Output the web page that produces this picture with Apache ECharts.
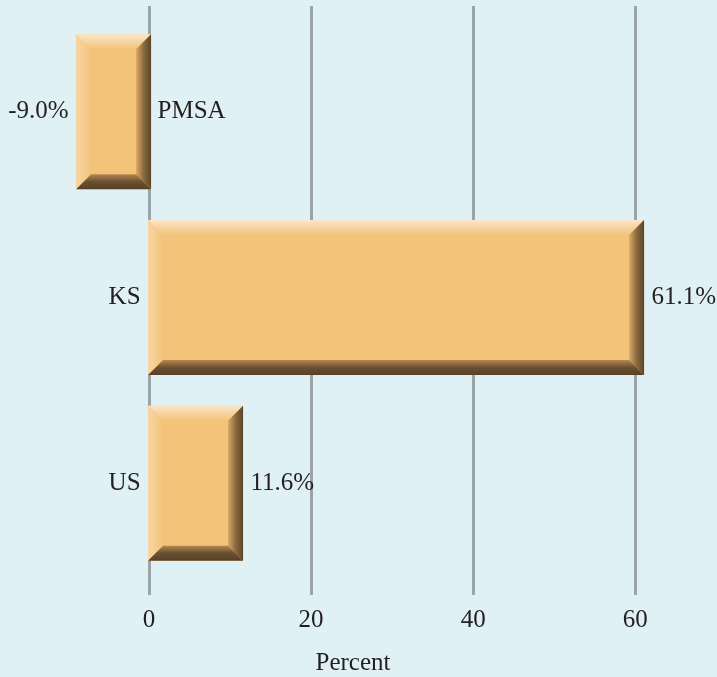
<!DOCTYPE html>
<html><head><meta charset="utf-8">
<script src="https://cdn.jsdelivr.net/npm/echarts@6/dist/echarts.min.js"></script>
<style>html,body{margin:0;padding:0;background:#e0f1f6;}#c{width:717px;height:677px;}</style>
</head><body><div id="c"></div>
<script>
const categories = ['PMSA', 'KS', 'US'];
const values = [-9.0, 61.1, 11.6];
const tickValues = [0, 20, 40, 60];
const axisName = 'Percent';

const FONT = '"Liberation Serif", "DejaVu Serif", serif';
const TXT = '#231f20';
const FS = 25;
const XMIN = -18.4, XMAX = 70.1;
const chart = echarts.init(document.getElementById('c'));

function lin(x1, y1, x2, y2, stops) {
  return new echarts.graphic.LinearGradient(x1, y1, x2, y2, stops.map((c, i) => ({offset: i / (stops.length - 1), color: c})));
}

function renderBar(params, api) {
  const idx = api.value(1);
  const v = api.value(0);
  const p0 = api.coord([0, idx]);
  const p1 = api.coord([v, idx]);
  const band = api.size([0, 1])[1];
  const h = band * 0.835;
  const x0 = Math.min(p0[0], p1[0]) + (v < 0 ? 0 : -1);
  const x1 = Math.max(p0[0], p1[0]) + (v < 0 ? 2 : 0);
  const y0 = p0[1] - h / 2, y1 = p0[1] + h / 2;
  const b = 15;
  const main = '#f3c37a';
  return {
    type: 'group',
    children: [
      {type: 'rect', shape: {x: x0, y: y0, width: x1 - x0, height: y1 - y0}, style: {fill: main}},
      {type: 'polygon', shape: {points: [[x0, y0], [x0 + b, y0 + b], [x0 + b, y1 - b], [x0, y1]]},
        style: {fill: lin(0, 0, 1, 0, ['#f7d7a4', '#f3c37a'])}},
      {type: 'polygon', shape: {points: [[x0, y0], [x1, y0], [x1 - b, y0 + b], [x0 + b, y0 + b]]},
        style: {fill: lin(0, 0, 0, 1, ['#fbe7cb', '#f7d4a0', '#f3c37a'])}},
      {type: 'polygon', shape: {points: [[x1, y0], [x1, y1], [x1 - b, y1 - b], [x1 - b, y0 + b]]},
        style: {fill: lin(0, 0, 1, 0, ['#d9a966', '#8c6a40', '#5a452a'])}},
      {type: 'polygon', shape: {points: [[x0, y1], [x1, y1], [x1 - b, y1 - b], [x0 + b, y1 - b]]},
        style: {fill: lin(0, 0, 0, 1, ['#b38752', '#6a5030', '#54402a'])}}
    ]
  };
}

const labelBase = {show: true, color: TXT, fontFamily: FONT, fontSize: FS, opacity: 1};

chart.setOption({
  backgroundColor: '#e0f1f6',
  animation: false,
  grid: [
    {left: 0, right: 0, top: 19, bottom: 101},
    {left: 0, right: 0, top: 6, bottom: 82}
  ],
  xAxis: [
    {gridIndex: 0, type: 'value', min: XMIN, max: XMAX, show: false},
    {gridIndex: 1, type: 'value', min: XMIN, max: XMAX,
      axisLine: {show: false},
      axisTick: {show: false, customValues: tickValues},
      splitLine: {show: true, lineStyle: {color: '#9ba4a8', width: 3}},
      axisLabel: {show: true, customValues: tickValues, margin: 13, color: TXT, fontFamily: FONT, fontSize: FS}}
  ],
  yAxis: [
    {gridIndex: 0, type: 'category', data: categories, inverse: true, show: false},
    {gridIndex: 1, type: 'category', data: categories, inverse: true, show: false}
  ],
  graphic: [{type: 'text', x: 353, y: 663, style: {text: axisName, fill: TXT, font: FS + 'px ' + FONT, textAlign: 'center', textVerticalAlign: 'middle'}}],
  series: [
    {type: 'custom', xAxisIndex: 0, yAxisIndex: 0, renderItem: renderBar,
      data: values.map((v, i) => [v, i]), encode: {x: 0, y: 1}, z: 3},
    {type: 'scatter', xAxisIndex: 0, yAxisIndex: 0, symbolSize: 1, itemStyle: {color: 'rgba(0,0,0,0)', opacity: 1}, z: 4,
      data: categories.map((c, i) => ({value: [0, i], label: Object.assign({}, labelBase, {
        formatter: c, position: values[i] < 0 ? 'right' : 'left', distance: 8})}))},
    {type: 'scatter', xAxisIndex: 0, yAxisIndex: 0, symbolSize: 1, itemStyle: {color: 'rgba(0,0,0,0)', opacity: 1}, z: 4,
      data: values.map((v, i) => ({value: [v, i], label: Object.assign({}, labelBase, {
        formatter: v.toFixed(1) + '%', position: v < 0 ? 'left' : 'right', distance: 7})}))}
  ]
});
</script></body></html>
